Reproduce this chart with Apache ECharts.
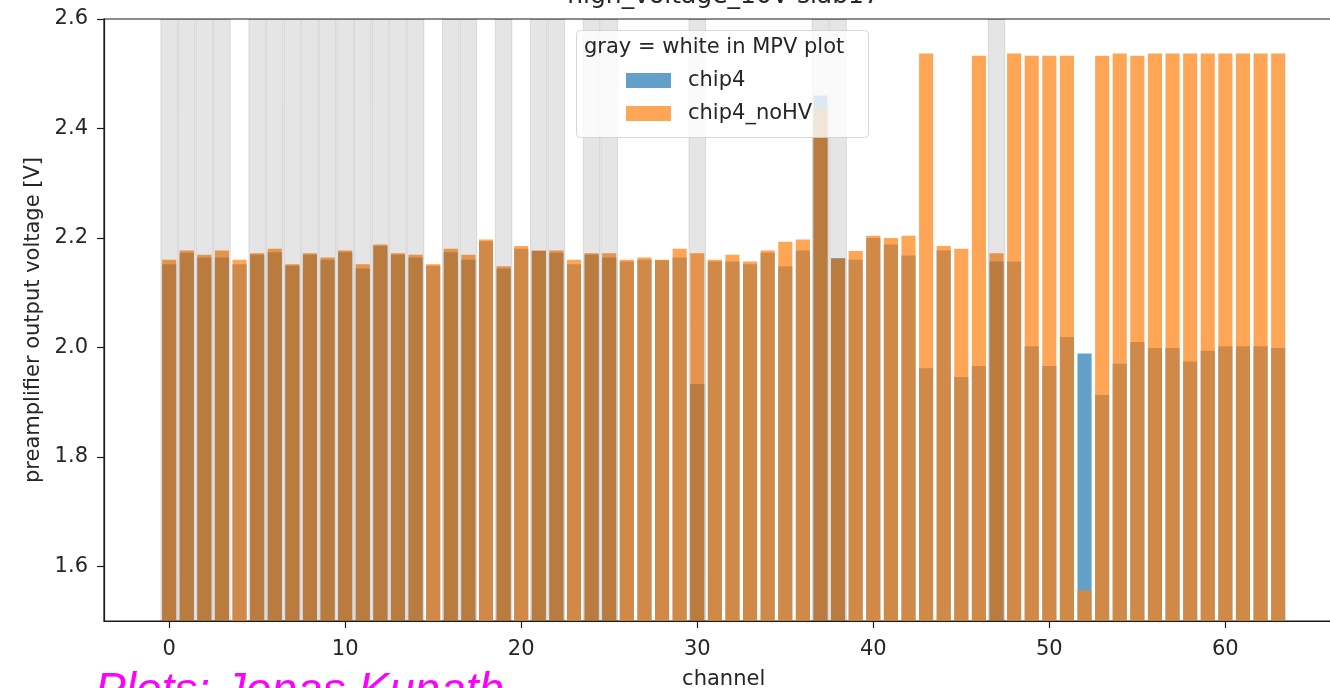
<!DOCTYPE html>
<html>
<head>
<meta charset="utf-8">
<script src="https://cdn.jsdelivr.net/npm/echarts@6/dist/echarts.min.js"></script>
<style>
  html, body { margin: 0; padding: 0; background: #fff; overflow: hidden; }
  /* the plot frame runs past the right edge of the page, so the canvas is a little wider than the window */
  #chart { width: 1360px; height: 688px; }
</style>
</head>
<body>
<div id="chart"></div>
<script>
// Channel numbers on the x axis
const channels = [
  0, 1, 2, 3, 4, 5, 6, 7, 8, 9, 10, 11, 12, 13, 14, 15,
  16, 17, 18, 19, 20, 21, 22, 23, 24, 25, 26, 27, 28, 29, 30, 31,
  32, 33, 34, 35, 36, 37, 38, 39, 40, 41, 42, 43, 44, 45, 46, 47,
  48, 49, 50, 51, 52, 53, 54, 55, 56, 57, 58, 59, 60, 61, 62, 63
];

// Preamplifier output voltage per channel [V], with high voltage
const chip4 = [
  2.152, 2.173, 2.164, 2.164, 2.152, 2.169, 2.174, 2.149,
  2.169, 2.160, 2.174, 2.144, 2.185, 2.169, 2.164, 2.149,
  2.174, 2.160, 2.194, 2.144, 2.180, 2.176, 2.173, 2.152,
  2.169, 2.164, 2.157, 2.160, 2.159, 2.164, 1.933, 2.157,
  2.157, 2.152, 2.173, 2.148, 2.177, 2.460, 2.163, 2.160,
  2.200, 2.188, 2.168, 1.962, 2.177, 1.946, 1.966, 2.157,
  2.157, 2.002, 1.966, 2.019, 1.989, 1.913, 1.970, 2.010,
  1.999, 1.999, 1.974, 1.994, 2.002, 2.002, 2.002, 1.999
];

// Preamplifier output voltage per channel [V], without high voltage
const chip4NoHV = [
  2.160, 2.177, 2.169, 2.177, 2.160, 2.172, 2.180, 2.152,
  2.172, 2.164, 2.177, 2.152, 2.188, 2.172, 2.169, 2.152,
  2.180, 2.169, 2.197, 2.148, 2.185, 2.177, 2.177, 2.160,
  2.172, 2.172, 2.160, 2.164, 2.160, 2.180, 2.172, 2.160,
  2.169, 2.157, 2.177, 2.193, 2.197, 2.437, 2.162, 2.176,
  2.204, 2.200, 2.204, 2.537, 2.185, 2.180, 2.533, 2.172,
  2.537, 2.533, 2.533, 2.533, 1.556, 2.533, 2.537, 2.533,
  2.537, 2.537, 2.537, 2.537, 2.537, 2.537, 2.537, 2.537
];

// Channels that show up white in the MPV plot (shaded gray here)
const grayChannels = [0, 1, 2, 3, 5, 6, 7, 8, 9, 10, 11, 12, 13, 14, 16, 17, 19, 21, 22, 24, 25, 30, 37, 38, 47];

// Tick labels
const xTicks = [0, 10, 20, 30, 40, 50, 60];
const yTicks = [1.6, 1.8, 2.0, 2.2, 2.4, 2.6];

const X_MIN = -3.7, X_MAX = 66.7;
const Y_MIN = 1.5, Y_MAX = 2.6;

const FONT = 'DejaVu Sans';
const TEXT = '#262626';
const SPINE = '#1a1a1a';

const chart = echarts.init(document.getElementById('chart'), null, { renderer: 'canvas' });

const option = {
  animation: false,
  backgroundColor: '#ffffff',
  title: {
    text: 'high_voltage_10V slab17',
    left: 723.5,
    textAlign: 'center',
    top: -16,
    padding: 0,
    textStyle: { fontFamily: FONT, fontSize: 25, fontWeight: 'normal', color: TEXT }
  },
  grid: {
    left: 104,
    top: 19,
    width: (X_MAX - X_MIN) * 17.604,
    height: 602,
    outerBoundsMode: 'none',
    show: true,
    borderColor: SPINE,
    borderWidth: 1.2,
    backgroundColor: 'transparent'
  },
  legend: {
    data: ['chip4', 'chip4_noHV'],
    orient: 'vertical',
    left: 626,
    top: 70,
    padding: 0,
    itemWidth: 45,
    itemHeight: 15,
    itemGap: 12,
    icon: 'rect',
    z: 110,
    textStyle: { fontFamily: FONT, fontSize: 21, color: TEXT, padding: [0, 0, 0, 12] }
  },
  xAxis: [
    {
      type: 'value',
      min: X_MIN,
      max: X_MAX,
      name: 'channel',
      nameLocation: 'middle',
      nameGap: 48,
      nameTextStyle: { fontFamily: FONT, fontSize: 21, color: TEXT },
      splitLine: { show: false },
      axisLine: { show: true, onZero: false, lineStyle: { color: SPINE, width: 1.2 } },
      axisTick: { show: true, length: 7, customValues: xTicks, lineStyle: { color: SPINE, width: 1.2 } },
      axisLabel: {
        customValues: xTicks,
        margin: 18,
        fontFamily: FONT,
        fontSize: 21,
        color: TEXT
      }
    },
    {
      type: 'value',
      min: X_MIN,
      max: X_MAX,
      show: false
    }
  ],
  yAxis: {
    type: 'value',
    min: Y_MIN,
    max: Y_MAX,
    name: 'preamplifier output voltage [V]',
    nameLocation: 'middle',
    nameGap: 60,
    nameTextStyle: { fontFamily: FONT, fontSize: 21, color: TEXT },
    splitLine: { show: false },
    axisLine: { show: true, onZero: false, lineStyle: { color: SPINE, width: 1.2 } },
    axisTick: { show: true, length: 7, customValues: yTicks, lineStyle: { color: SPINE, width: 1.2 } },
    axisLabel: {
      customValues: yTicks,
      margin: 16,
      fontFamily: FONT,
      fontSize: 21,
      color: TEXT,
      formatter: v => v.toFixed(1)
    }
  },
  series: [
    {
      name: 'chip4',
      type: 'bar',
      xAxisIndex: 0,
      barWidth: '80%',
      barGap: '-100%',
      z: 2,
      itemStyle: { color: '#1f77b4', opacity: 0.7 },
      data: channels.map((c, i) => [c, chip4[i]])
    },
    {
      name: 'chip4_noHV',
      type: 'bar',
      xAxisIndex: 0,
      barWidth: '80%',
      barGap: '-100%',
      z: 3,
      itemStyle: { color: '#ff7f0e', opacity: 0.7 },
      data: channels.map((c, i) => [c, chip4NoHV[i]])
    },
    {
      name: 'gray',
      type: 'bar',
      xAxisIndex: 1,
      barWidth: '100%',
      z: 4,
      silent: true,
      itemStyle: { color: 'rgba(0,0,0,0.1)', borderColor: 'rgba(0,0,0,0.1)', borderWidth: 1 },
      data: grayChannels.map(c => [c, Y_MAX])
    }
  ],
  graphic: [
    {
      type: 'rect',
      z: 105,
      shape: { x: 576.5, y: 30.5, width: 292, height: 107, r: 4 },
      style: { fill: 'rgba(255,255,255,0.8)', stroke: 'rgba(204,204,204,0.8)', lineWidth: 1 }
    },
    {
      type: 'text',
      z: 106,
      x: 584,
      y: 48,
      style: {
        text: 'gray = white in MPV plot',
        font: '21px "DejaVu Sans"',
        fill: TEXT,
        verticalAlign: 'middle'
      }
    },
    {
      type: 'text',
      z: 106,
      x: 95,
      y: 669,
      style: {
        text: 'Plots: Jonas Kunath',
        font: 'italic 46px "Liberation Sans"',
        fill: '#ff00ff',
        verticalAlign: 'top'
      }
    }
  ]
};

chart.setOption(option);
</script>
</body>
</html>
